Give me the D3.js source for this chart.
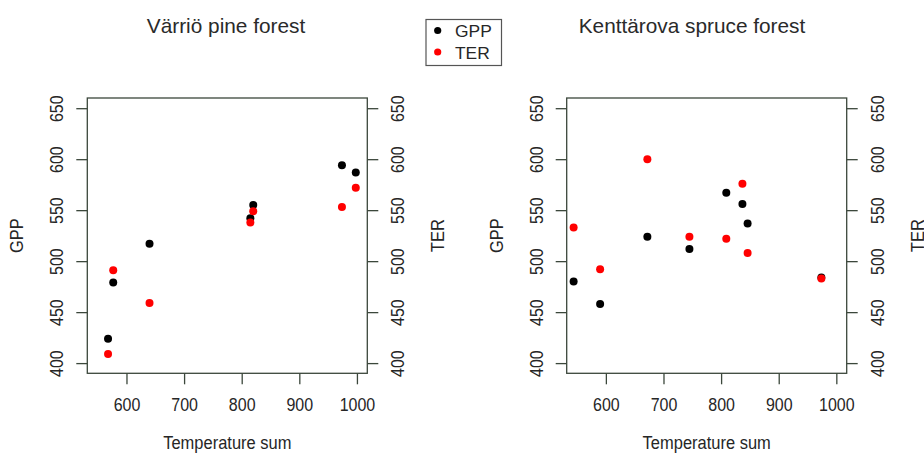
<!DOCTYPE html>
<html>
<head>
<meta charset="utf-8">
<script src="https://cdn.jsdelivr.net/npm/d3@7"></script>
<style>
  html, body { margin: 0; padding: 0; background: #fff; }
  svg { display: block; font-family: "Liberation Sans", Arial, sans-serif; }
</style>
</head>
<body>
<svg id="chart" width="924" height="453"></svg>
<script>
// ---- data ----
const xTicks = [600, 700, 800, 900, 1000];
const yTicks = [400, 450, 500, 550, 600, 650];
const seriesNames = ["GPP", "TER"];
const seriesColors = ["#000000", "#ff0000"];

const varrioTitle = "Värriö pine forest";
const varrioTemp = [568, 577, 640, 815, 820, 974, 998];
const varrioGPP  = [424, 479, 517, 542, 555, 594, 587];
const varrioTER  = [409, 491, 459, 538, 549, 553, 572];

const kentTitle = "Kenttärova spruce forest";
const kentTemp = [544, 590, 672, 745, 809, 837, 846, 974];
const kentGPP  = [480, 458, 524, 512, 567, 556, 537, 484];
const kentTER  = [533, 492, 600, 524, 522, 576, 508, 483];

const xLabel = "Temperature sum";
const yLabelLeft = "GPP";
const yLabelRight = "TER";

// ---- layout ----
const svg = d3.select("#chart");
const axisColor = "#3b473b";
const textColor = "#262626";
const tickFont = '"Liberation Sans", Arial, sans-serif';

const panels = [
  { title: varrioTitle, titleX: 226, temp: varrioTemp, gpp: varrioGPP, ter: varrioTER, x0: 87.3, x1: 367.3 },
  { title: kentTitle, titleX: 692, temp: kentTemp, gpp: kentGPP, ter: kentTER, x0: 566.7, x1: 846.7 }
];
const yTop = 98, yBot = 373.3;

panels.forEach(p => {
  const x = d3.scaleLinear().domain([532, 1018]).range([p.x0, p.x1]);
  const y = d3.scaleLinear().domain([390, 660]).range([yBot, yTop]);
  const g = svg.append("g");

  // box
  g.append("rect")
    .attr("x", p.x0).attr("y", yTop)
    .attr("width", p.x1 - p.x0).attr("height", yBot - yTop)
    .attr("fill", "none").attr("stroke", axisColor).attr("stroke-width", 1.3);

  function styleAxis(sel, transform) {
    sel.select(".domain").remove();
    sel.selectAll(".tick line").attr("stroke", axisColor).attr("stroke-width", 1.3);
    sel.selectAll("text").attr("x", 0).attr("y", 0).attr("dy", 0)
      .attr("text-anchor", "middle")
      .attr("transform", transform)
      .attr("fill", textColor).style("font-size", "16px")
      .style("font-family", tickFont);
  }

  // bottom axis
  const ax = g.append("g").attr("transform", `translate(0,${yBot})`)
    .call(d3.axisBottom(x).tickValues(xTicks).tickSize(11).tickFormat(d3.format("d")));
  styleAxis(ax, "translate(0,37.5) scale(1,1.12)");

  // left axis
  const al = g.append("g").attr("transform", `translate(${p.x0},0)`)
    .call(d3.axisLeft(y).tickValues(yTicks).tickSize(11).tickFormat(d3.format("d")));
  styleAxis(al, "translate(-24,0) rotate(-90) scale(1,1.12)");

  // right axis
  const ar = g.append("g").attr("transform", `translate(${p.x1},0)`)
    .call(d3.axisRight(y).tickValues(yTicks).tickSize(11).tickFormat(d3.format("d")));
  styleAxis(ar, "translate(37,0) rotate(-90) scale(1,1.12)");

  // titles / labels
  g.append("text").attr("x", p.titleX).attr("y", 33).attr("text-anchor", "middle")
    .attr("fill", "#2a2a2a").style("font-size", "20.8px").text(p.title);
  g.append("text").attr("text-anchor", "middle")
    .attr("transform", `translate(${(p.x0 + p.x1) / 2},449) scale(1,1.12)`)
    .attr("fill", textColor).style("font-size", "16.5px").text(xLabel);
  g.append("text").attr("text-anchor", "middle")
    .attr("transform", `translate(${p.x0 - 64},${(yTop + yBot) / 2}) rotate(-90) scale(1,1.12)`)
    .attr("fill", textColor).style("font-size", "16.5px").text(yLabelLeft);
  g.append("text").attr("text-anchor", "middle")
    .attr("transform", `translate(${p.x1 + 77},${(yTop + yBot) / 2}) rotate(-90) scale(1,1.12)`)
    .attr("fill", textColor).style("font-size", "16.5px").text(yLabelRight);

  // points: GPP first, TER on top
  [p.gpp, p.ter].forEach((vals, si) => {
    g.append("g").selectAll("circle").data(vals).join("circle")
      .attr("cx", (d, i) => x(p.temp[i]))
      .attr("cy", d => y(d))
      .attr("r", 4)
      .attr("fill", seriesColors[si]);
  });
});

// legend
const lg = svg.append("g");
lg.append("rect").attr("x", 426).attr("y", 19.5).attr("width", 75.5).attr("height", 46)
  .attr("fill", "#fff").attr("stroke", "#555").attr("stroke-width", 1.2);
seriesNames.forEach((n, i) => {
  lg.append("circle").attr("cx", 437.7).attr("cy", 30.5 + i * 21.5).attr("r", 3.6).attr("fill", seriesColors[i]);
  lg.append("text").attr("x", 455).attr("y", 37 + i * 21.5).attr("fill", textColor)
    .style("font-size", "17.4px").text(n);
});
</script>
</body>
</html>
